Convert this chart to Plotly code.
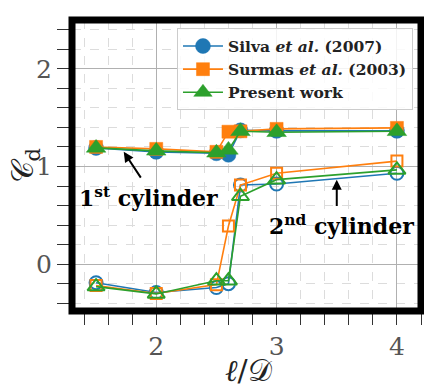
import plotly.graph_objects as go

# ---- data ----
x_silva = [1.5, 2.0, 2.5, 2.6, 2.7, 3.0, 4.0]
silva_up = [1.19, 1.15, 1.135, 1.12, 1.37, 1.365, 1.365]
silva_down = [-0.19, -0.29, -0.24, -0.20, 0.81, 0.82, 0.93]

x_surmas = [1.5, 2.0, 2.5, 2.6, 2.7, 3.0, 4.0]
surmas_up = [1.20, 1.18, 1.15, 1.356, 1.36, 1.385, 1.395]
surmas_down = [-0.22, -0.30, -0.21, 0.39, 0.81, 0.93, 1.055]

x_present = [1.5, 2.0, 2.5, 2.6, 2.7, 3.0, 4.0]
present_up = [1.19, 1.16, 1.14, 1.17, 1.36, 1.35, 1.36]
present_down = [-0.23, -0.305, -0.17, -0.17, 0.695, 0.865, 0.965]

names = ["Silva <i>et al.</i> (2007)", "Surmas <i>et al.</i> (2003)", "Present work"]
colors = ["#1f77b4", "#ff7f0e", "#2ca02c"]

fig = go.Figure()

series = [
    (x_silva, silva_up, silva_down, "circle", 15),
    (x_surmas, surmas_up, surmas_down, "square", 13),
    (x_present, present_up, present_down, "triangle-up", 17),
]

for i, (xs, up, down, sym, sz) in enumerate(series):
    fig.add_trace(go.Scatter(
        x=xs, y=down, mode="lines+markers", showlegend=False,
        line=dict(color=colors[i], width=1.6),
        marker=dict(symbol=sym + "-open", size=sz - 2, color=colors[i],
                    line=dict(width=2, color=colors[i])),
    ))
for i, (xs, up, down, sym, sz) in enumerate(series):
    fig.add_trace(go.Scatter(
        x=xs, y=up, mode="lines+markers", name="<b>" + names[i] + "</b>",
        line=dict(color=colors[i], width=1.6),
        marker=dict(symbol=sym, size=sz, color=colors[i],
                    line=dict(width=0.5, color=colors[i])),
    ))

grid_major = "#b0b0b0"
grid_minor = "#dcdcdc"
tickfont = dict(family="DejaVu Serif", size=25, color="#555555")

fig.update_xaxes(
    range=[1.3, 4.2], tickvals=[2, 3, 4], ticktext=["2", "3", "4"],
    ticks="outside", ticklen=13, tickwidth=1.2, tickcolor="#333333",
    showgrid=True, gridcolor=grid_major, gridwidth=1,
    zeroline=False, showline=False, tickfont=tickfont,
    minor=dict(dtick=0.2, tick0=0, ticks="outside", ticklen=13, tickwidth=1.2,
               tickcolor="#333333", showgrid=True, gridcolor=grid_minor,
               griddash="dash", gridwidth=1),
)
fig.update_yaxes(
    range=[-0.48, 2.5], tickvals=[0, 1, 2], ticktext=["0", "1", "2"],
    ticks="outside", ticklen=14, tickwidth=1.2, tickcolor="#333333",
    showgrid=True, gridcolor=grid_major, gridwidth=1,
    zeroline=False, showline=False, tickfont=tickfont,
    minor=dict(dtick=0.2, tick0=0, ticks="outside", ticklen=14, tickwidth=1.2,
               tickcolor="#333333", showgrid=True, gridcolor=grid_minor,
               griddash="dash", gridwidth=1),
)

# thick frame
fig.add_shape(type="rect", xref="paper", yref="paper", x0=0, x1=1, y0=0, y1=1,
              line=dict(color="black", width=7), layer="above")

ann_font = dict(family="DejaVu Serif", size=22, color="black")
fig.add_annotation(x=1.73, y=1.15, ax=1.88, ay=0.87, xref="x", yref="y",
                   axref="x", ayref="y", text="", showarrow=True,
                   arrowhead=2, arrowsize=1, arrowwidth=2, arrowcolor="black")
fig.add_annotation(x=3.5, y=0.865, ax=3.5, ay=0.58, xref="x", yref="y",
                   axref="x", ayref="y", text="", showarrow=True,
                   arrowhead=2, arrowsize=1, arrowwidth=2, arrowcolor="black")
fig.add_annotation(x=1.345, y=0.69, xref="x", yref="y", xanchor="left",
                   yanchor="middle", text="<b>1<sup>st</sup> cylinder</b>",
                   showarrow=False, font=ann_font)
fig.add_annotation(x=2.92, y=0.40, xref="x", yref="y", xanchor="left",
                   yanchor="middle", text="<b>2<sup>nd</sup> cylinder</b>",
                   showarrow=False, font=ann_font)

# axis titles
fig.add_annotation(x=0.505, y=-0.205, xref="paper", yref="paper",
                   text="<i>ℓ</i>/𝒟", showarrow=False,
                   font=dict(family="DejaVu Serif", size=30, color="#222"),
                   xanchor="center", yanchor="middle")
fig.add_annotation(x=-0.135, y=0.5, xref="paper", yref="paper",
                   text="𝒞<sub>d</sub>", showarrow=False, textangle=-90,
                   font=dict(family="DejaVu Serif", size=30, color="#222"),
                   xanchor="center", yanchor="middle")

fig.update_layout(
    width=424, height=391,
    margin=dict(l=72, r=3, t=20, b=80),
    paper_bgcolor="white", plot_bgcolor="white",
    legend=dict(x=0.977, y=0.971, xanchor="right", yanchor="top",
                bgcolor="rgba(255,255,255,0.85)", bordercolor="#cccccc",
                borderwidth=1, font=dict(family="DejaVu Serif", size=15.5, color="#222"),
                itemwidth=40, tracegroupgap=2),
)

fig.write_html("out.html")
